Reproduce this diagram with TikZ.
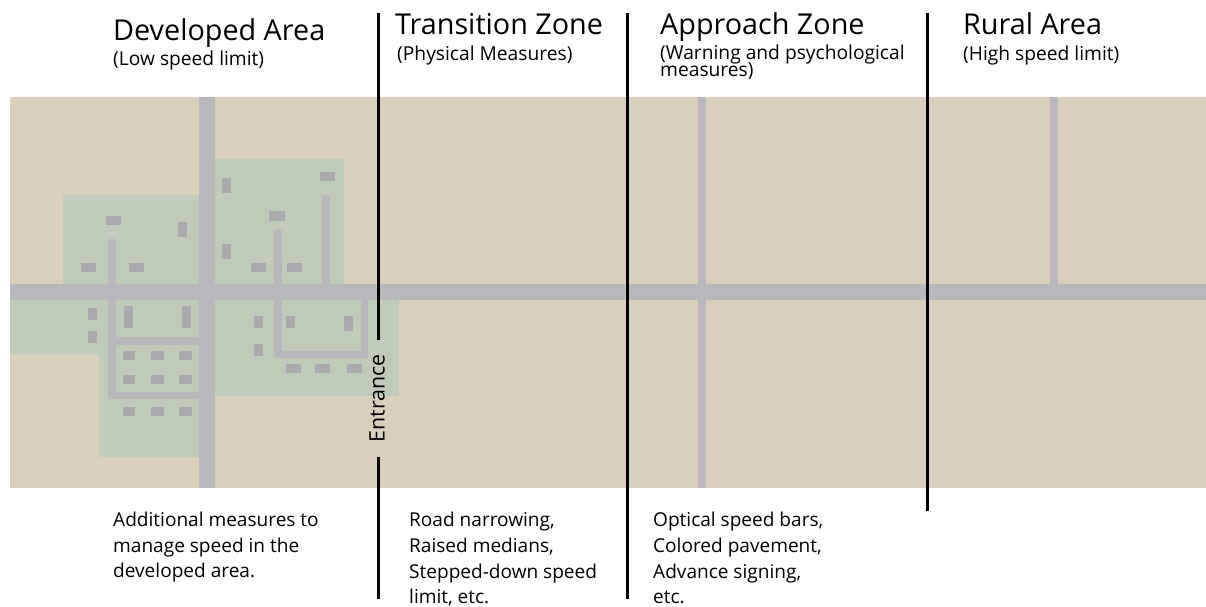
\documentclass[tikz,border=0pt]{standalone}
\usepackage{fontspec}
\setmainfont{Open Sans}
\definecolor{landc}{HTML}{D9CFBD}
\definecolor{townc}{HTML}{C1CBB9}
\definecolor{roadc}{HTML}{B9B9BD}
\definecolor{bldgc}{HTML}{A9A9AE}
\newcommand{\rc}[5]{\fill[#1] (#2,#3) rectangle (#4,#5);}
\tikzset{
  title/.style={anchor=base west,inner sep=0pt,font=\fontsize{27}{27}\selectfont,scale=1.065},
  sub/.style={anchor=base west,inner sep=0pt,align=left,font=\fontsize{18}{18}\selectfont,scale=1.067},
  body/.style={anchor=base west,inner sep=0pt,font=\fontsize{18.5}{18.5}\selectfont,scale=1.03},
  zoneline/.style={line width=3pt,black}
}
\begin{document}
\begin{tikzpicture}[x=1pt,y=-1pt]
\useasboundingbox (0,0) rectangle (1206,607);
\rc{white}{0}{0}{1206}{607}
\rc{landc}{10}{97}{1206}{488}
% town areas
\rc{townc}{63}{195}{199}{284}
\rc{townc}{215}{159}{344}{284}
\rc{townc}{10}{300}{199}{355}
\rc{townc}{99}{300}{199}{457}
\rc{townc}{215}{300}{399}{396}
% roads
\rc{roadc}{10}{284}{1206}{300}
\rc{roadc}{199}{97}{215}{488}
\rc{roadc}{698}{97}{706}{488}
\rc{roadc}{1050}{97}{1058}{284}
\rc{roadc}{108}{239}{116}{399}
\rc{roadc}{108}{337}{199}{345}
\rc{roadc}{108}{392}{199}{399}
\rc{roadc}{274}{230}{282}{358}
\rc{roadc}{322}{195}{330}{284}
\rc{roadc}{274}{351}{368}{358}
\rc{roadc}{361}{300}{368}{358}
% buildings
\foreach \a/\b/\c/\d in {106/216/121/225,178/222/187/237,81/263/96/272,129/263/144/272,
  222/178/231/193,320/172/335/181,269/211/285/221,222/244/231/259,251/263/266/272,287/263/302/272,
  88/308/97/320,88/331/97/343,124/306/133/328,182/306/191/328,254/316/263/328,286/316/295/328,
  344/316/353/331,254/344/263/356,286/364/301/373,315/364/330/373,347/364/362/373,
  123/351/135/360,151/351/164/360,179/351/192/360,
  123/375/135/384,151/375/164/384,179/375/192/384,
  123/407/135/416,151/407/164/416,179/407/192/416}
  {\rc{bldgc}{\a}{\b}{\c}{\d}}
% zone lines
\draw[zoneline] (378,13) -- (378,340);
\draw[zoneline] (378,457) -- (378,599);
\draw[zoneline] (627,13) -- (627,599);
\draw[zoneline] (927,13) -- (927,511);
% texts
\node[title] (t1) at (113,41) {Developed Area};
\node[sub] (s1) at (113,66) {(Low speed limit)};
\node[title] (t2) at (395,35) {Transition Zone};
\node[sub] (s2) at (397,61) {(Physical Measures)};
\node[title] (t3) at (660,35) {Approach Zone};
\node[sub] (s3) at (660,60) {(Warning and psychological};
\node[sub] (s3b) at (660,77) {measures)};
\node[title] (t4) at (963,35) {Rural Area};
\node[sub] (s4) at (963,61) {(High speed limit)};
\node[body] (a1) at (113,526) {Additional measures to};
\node[body] (a2) at (113,552) {manage speed in the};
\node[body] (a3) at (113,577) {developed area.};
\node[body] (c1) at (409,526) {Road narrowing,};
\node[body] (c2) at (409,552) {Raised medians,};
\node[body] (c3) at (409,578) {Stepped-down speed};
\node[body] (c4) at (409,603) {limit, etc.};
\node[body] (d1) at (653,526) {Optical speed bars,};
\node[body] (d2) at (653,552) {Colored pavement,};
\node[body] (d3) at (653,578) {Advance signing,};
\node[body] (d4) at (653,603) {etc.};
\node[rotate=90,inner sep=0pt,font=\fontsize{21.4}{21.4}\selectfont] (ent) at (377,398.5) {Entrance};
\end{tikzpicture}
\end{document}
